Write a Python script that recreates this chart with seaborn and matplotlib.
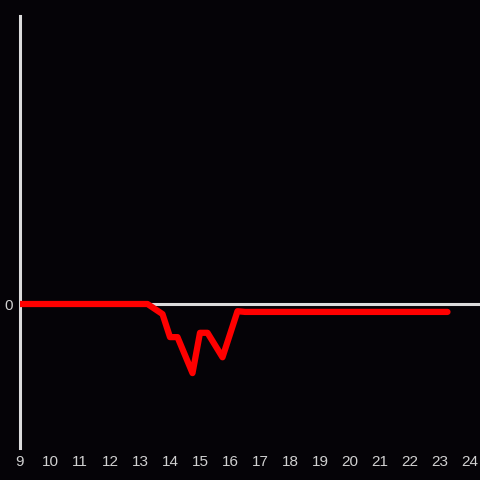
import pandas as pd
import seaborn as sns
import matplotlib.pyplot as plt
import numpy as np

# hours of the day and the value at each point
hours = [9.0, 9.5, 10.0, 11.0, 12.0, 13.0, 13.25, 13.75, 14.0, 14.25, 14.75,
         15.0, 15.25, 15.75, 16.25, 16.5, 17.0, 18.0, 19.0, 20.0, 21.0, 22.0, 23.0, 23.25]
values = [0.0, 0.0, 0.0, 0.0, 0.0, 0.0, 0.0, -0.7, -2.3, -2.3, -4.8,
          -2.0, -2.0, -3.7, -0.5, -0.55, -0.55, -0.55, -0.55, -0.55, -0.55, -0.55, -0.55, -0.55]
xticks = list(range(9, 25))

df = pd.DataFrame({'hour': hours, 'value': values})

bg = '#050307'
sns.set_style("dark", {'axes.facecolor': bg, 'figure.facecolor': bg})
plt.rcParams['font.family'] = ['Liberation Sans', 'DejaVu Sans']

fig = plt.figure(figsize=(4.8, 4.8), dpi=100)
ax = fig.add_axes([20 / 480, 32 / 480, 460 / 480, 432 / 480])
ax.set_facecolor(bg)

ax.axhline(0, color='#dcdcdc', lw=2.2, zorder=1)
sns.lineplot(data=df, x='hour', y='value', color='#ff0000', lw=4.5, ax=ax, zorder=3)

ax.set_xlim(9, 9 + 460 / 30)
ax.set_ylim(-10, 20)
ax.set_xticks(xticks)
ax.set_xticklabels([str(t) for t in xticks])
ax.set_yticks([0])
ax.set_yticklabels(['0'])
ax.tick_params(colors='#d0d0d0', labelsize=11, length=0, pad=5)
ax.set_xlabel('')
ax.set_ylabel('')
ax.grid(False)
for s in ['top', 'right', 'bottom']:
    ax.spines[s].set_visible(False)
ax.spines['left'].set_color('#dcdcdc')
ax.spines['left'].set_linewidth(2.2)

fig.savefig('out.png', dpi=100, facecolor=bg)
